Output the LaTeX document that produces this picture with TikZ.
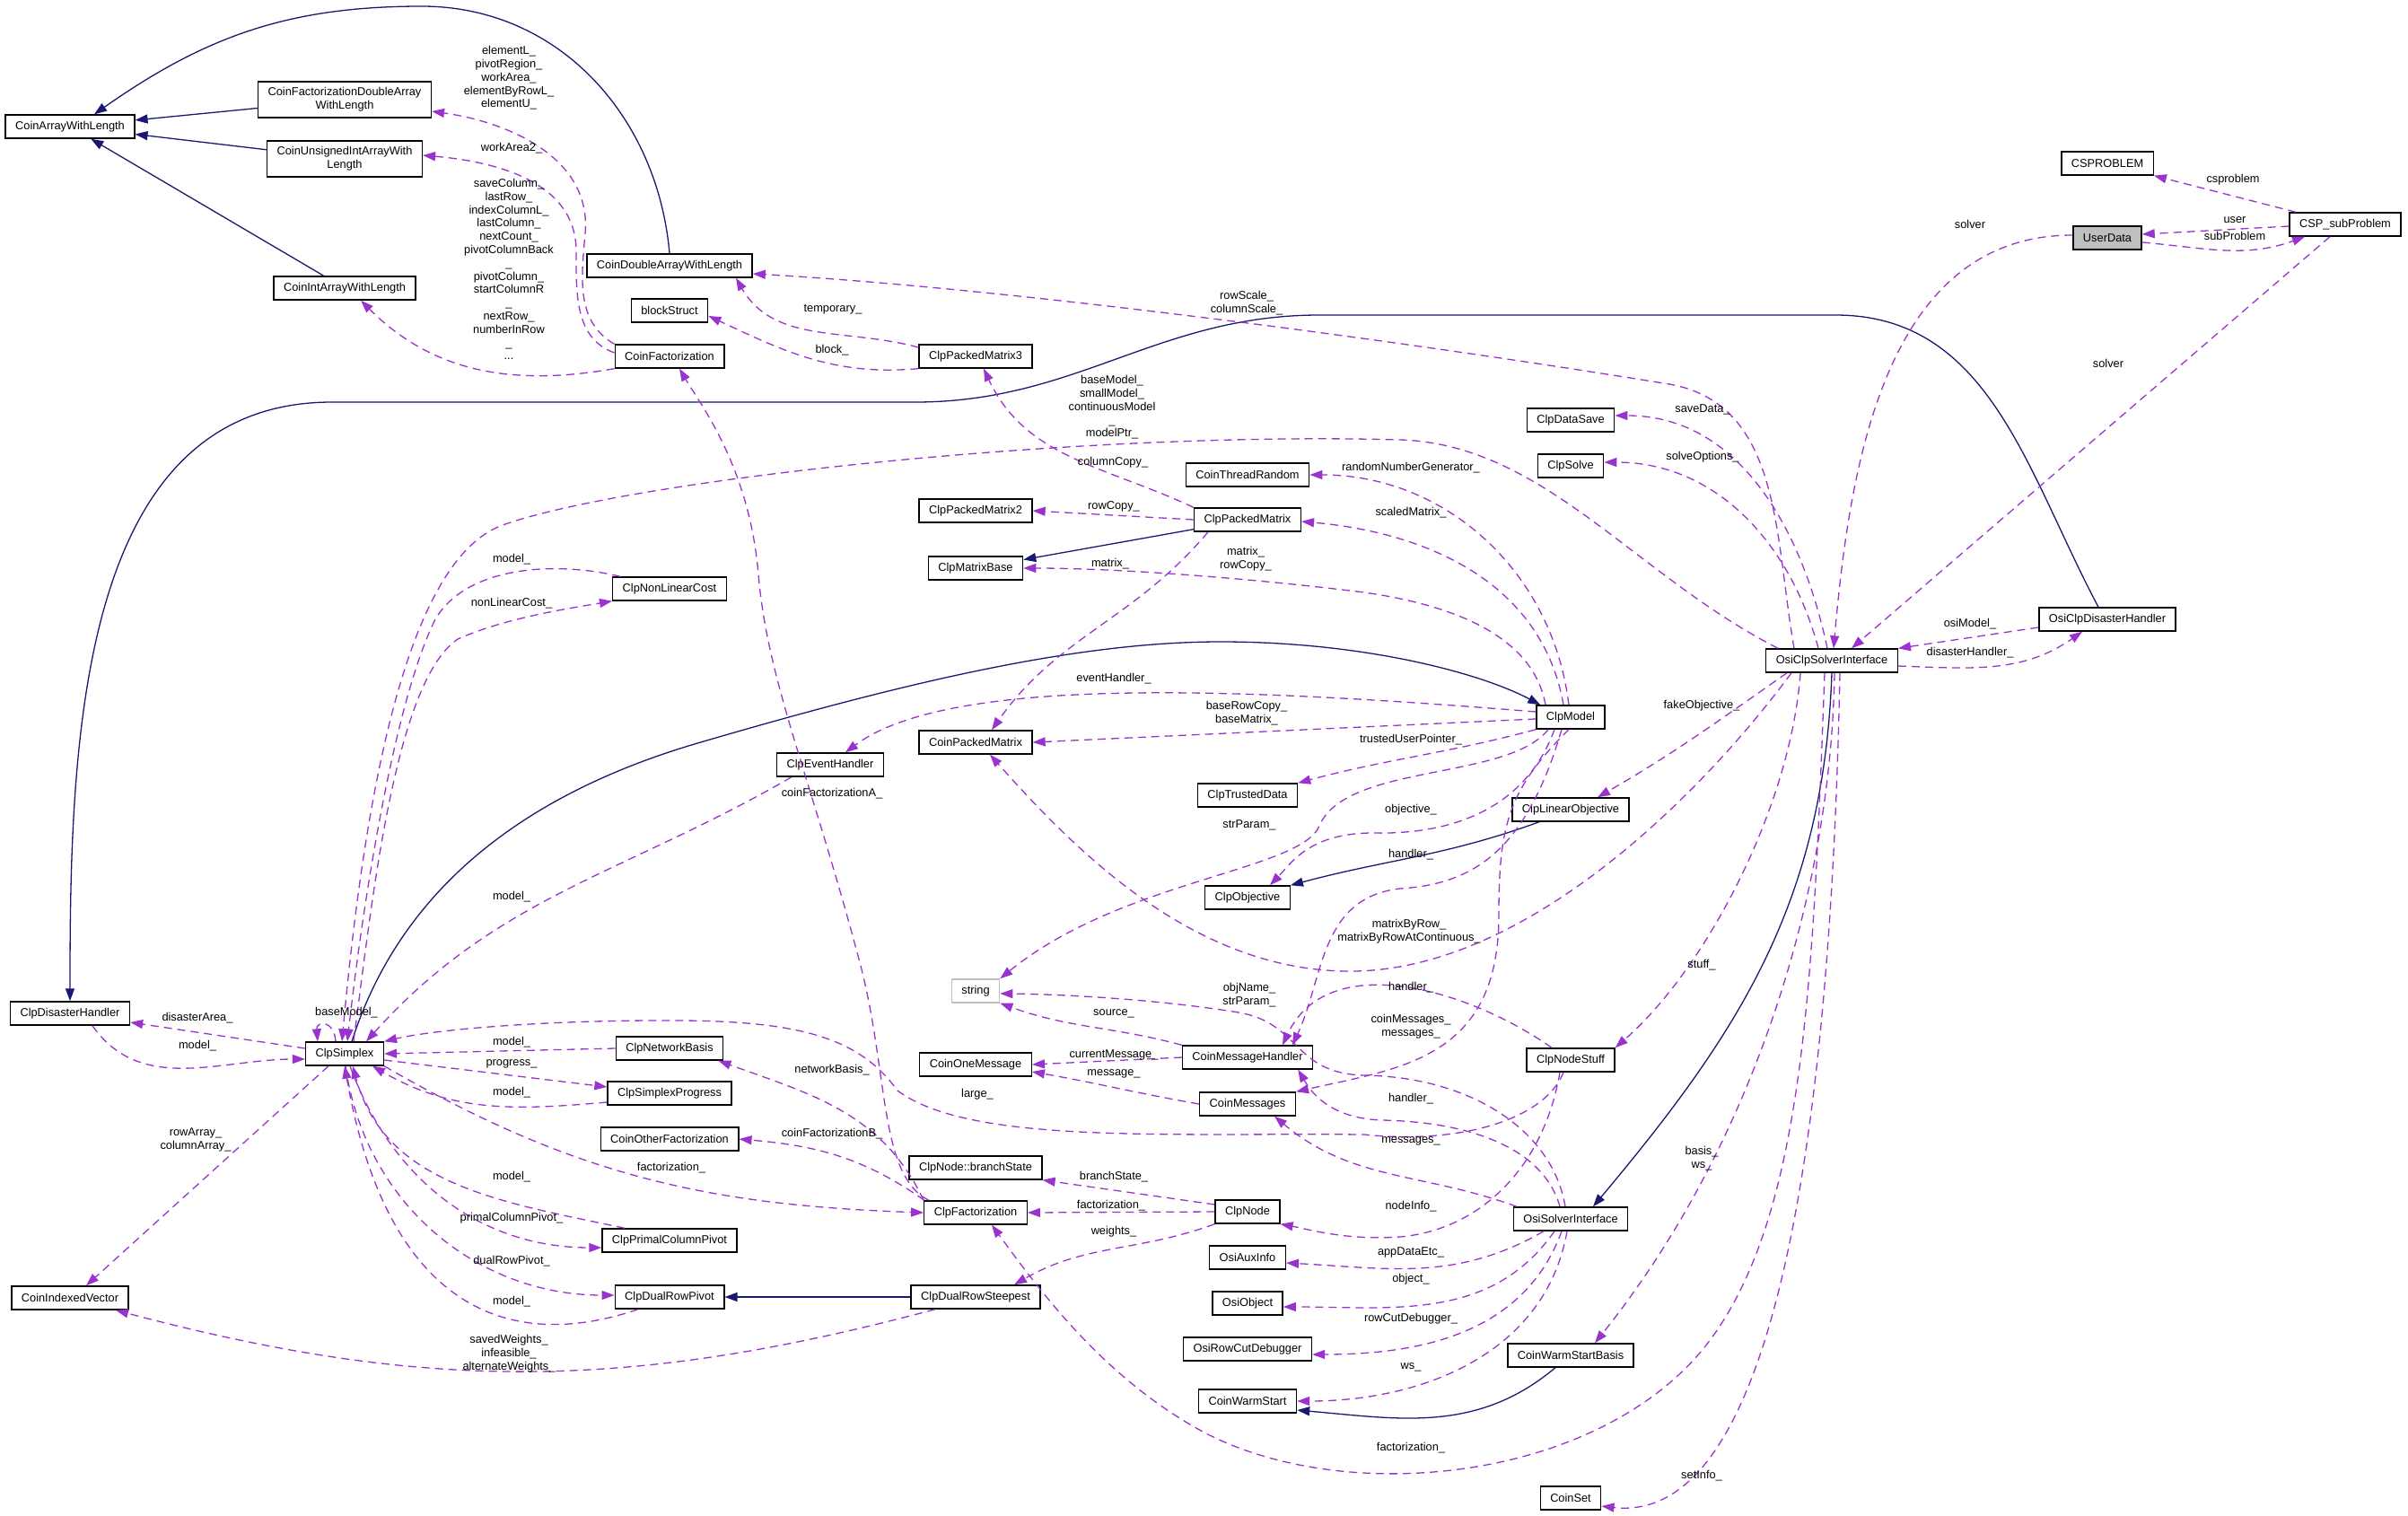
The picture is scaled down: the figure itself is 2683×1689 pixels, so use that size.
\documentclass[tikz,border=0pt]{standalone}
\usepackage{fontspec}
\setmainfont{Liberation Sans}
\usetikzlibrary{arrows.meta}
\definecolor{inhblue}{HTML}{191970}
\definecolor{usepurple}{HTML}{9A32CD}
\newcommand{\dotsz}{\fontsize{12.8}{14.8}\selectfont}

\begin{document}
\begin{tikzpicture}[->,>={Triangle[length=14pt,width=10pt]},x=1pt,y=-1pt]
	\tikzstyle{cls} = [rectangle,draw,line width=1.4pt,font=\dotsz,align=center,inner xsep=11pt,inner ysep=6.5pt,minimum height=26pt]
	\tikzstyle{ext} = [cls,draw=gray!50]
	\tikzstyle{inh} = [inhblue,line width=1.3pt]
	\tikzstyle{use} = [usepurple,line width=1.3pt,dash pattern=on 9pt off 6pt]
	\tikzstyle{lbl} = [font=\dotsz,align=center,inner sep=0pt]

	\useasboundingbox (0,0) rectangle (2683,1689);

	\node[cls] (cawl) at (78,141) {CoinArrayWithLength};
	\node[cls] (cfdawl) at (384,111) {CoinFactorizationDoubleArray\\WithLength};
	\node[cls] (cuiawl) at (384,177) {CoinUnsignedIntArrayWith\\Length};
	\node[cls] (ciawl) at (384,321) {CoinIntArrayWithLength};
	\node[cls] (cdawl) at (746,296) {CoinDoubleArrayWithLength};
	\node[cls] (blk) at (746,346) {blockStruct};
	\node[cls] (cfact) at (746,397) {CoinFactorization};
	\node[cls] (cnlc) at (746,656) {ClpNonLinearCost};
	\node[cls] (ceh) at (925,852) {ClpEventHandler};
	\node[cls] (cnb) at (746,1168) {ClpNetworkBasis};
	\node[cls] (csp) at (746,1218) {ClpSimplexProgress};
	\node[cls] (cof) at (746,1269) {CoinOtherFactorization};
	\node[cls] (cpcp) at (746,1382) {ClpPrimalColumnPivot};
	\node[cls] (cdrp) at (746,1445) {ClpDualRowPivot};
	\node[cls] (cdh) at (78,1129) {ClpDisasterHandler};
	\node[cls] (civ) at (78,1446) {CoinIndexedVector};
	\node[cls] (simplex) at (384,1174) {ClpSimplex};

	\node[cls] (cpm3) at (1087,397) {ClpPackedMatrix3};
	\node[cls] (cpm2) at (1087,569) {ClpPackedMatrix2};
	\node[cls] (cmb) at (1087,633) {ClpMatrixBase};
	\node[cls] (coinpm) at (1087,827) {CoinPackedMatrix};
	\node[ext] (str) at (1087,1104) {string};
	\node[cls] (com) at (1087,1186) {CoinOneMessage};
	\node[cls] (cbs) at (1087,1301) {ClpNode::branchState};
	\node[cls] (clpfact) at (1087,1351) {ClpFactorization};
	\node[cls] (cdrs) at (1087,1445) {ClpDualRowSteepest};

	\node[cls] (ctr) at (1390,529) {CoinThreadRandom};
	\node[cls] (cpm) at (1390,579) {ClpPackedMatrix};
	\node[cls] (ctd) at (1390,886) {ClpTrustedData};
	\node[cls] (cobj) at (1390,1000) {ClpObjective};
	\node[cls] (cmh) at (1390,1178) {CoinMessageHandler};
	\node[cls] (cmsg) at (1390,1230) {CoinMessages};
	\node[cls] (cnode) at (1390,1350) {ClpNode};
	\node[cls] (oai) at (1390,1401) {OsiAuxInfo};
	\node[cls] (oobj) at (1390,1452) {OsiObject};
	\node[cls] (orcd) at (1390,1503) {OsiRowCutDebugger};
	\node[cls] (cws) at (1390,1561) {CoinWarmStart};

	\node[cls] (cds) at (1750,468) {ClpDataSave};
	\node[cls] (csolve) at (1750,519) {ClpSolve};
	\node[cls] (cmodel) at (1750,799) {ClpModel};
	\node[cls] (clo) at (1750,902) {ClpLinearObjective};
	\node[cls] (cns) at (1750,1181) {ClpNodeStuff};
	\node[cls] (osi) at (1750,1358) {OsiSolverInterface};
	\node[cls] (cwsb) at (1750,1510) {CoinWarmStartBasis};
	\node[cls] (cset) at (1750,1669) {CoinSet};

	\node[cls] (osiclp) at (2041,736) {OsiClpSolverInterface};
	\node[cls] (csprob) at (2348,182) {CSPROBLEM};
	\node[cls,fill=gray!50] (ud) at (2348,265) {UserData};
	\node[cls] (ocdh) at (2348,690) {OsiClpDisasterHandler};
	\node[cls] (cspsub) at (2613,250) {CSP\_subProblem};

	\path (cfdawl) edge[inh] (cawl);
	\path (cuiawl) edge[inh] (cawl);
	\path (ciawl) edge[inh] (cawl);
	\draw[inh] (cdawl.north) to[out=95,in=0] (470,7) to[out=180,in=35] ([xshift=27pt]cawl.north);
	\draw[inh] ([xshift=-10pt]ocdh.north) to[out=118,in=0] (2045,351) -- (1470,351) to[out=180,in=0] (1020,448) -- (370,448) to[out=180,in=90] (cdh.north);
	\draw[inh] ([xshift=8pt]simplex.north) .. controls (440,1010) and (560,890) .. (784,826) .. controls (1010,760) and (1200,715) .. (1360,715) .. controls (1520,715) and (1650,750) .. ([xshift=5pt]cmodel.north west);
	\path (cpm) edge[inh] (cmb);
	\draw[inh] ([xshift=-35pt]clo.south) to[out=200,in=15] (cobj.north east);
	\draw[inh] (osiclp.south) to[out=-92,in=50] ([xshift=25pt]osi.north);
	\path (cdrs) edge[inh] (cdrp);
	\draw[inh] ([xshift=-17pt]cwsb.south) to[out=-140,in=-5] ([yshift=-10pt]cws.east);

	\draw[use] (cfact.north west) to[out=150,in=-95] (652,260) to[out=85,in=-8] ([yshift=-13pt]cfdawl.east);
	\draw[use] ([yshift=4pt]cfact.west) to[out=160,in=-90] (642,280) to[out=90,in=-5] ([yshift=4pt]cuiawl.east);
	\draw[use] (cfact.south west) to[out=190,in=-45] ([xshift=18pt]ciawl.south);
	\draw[use] ([yshift=10pt]cpm3.west) to[out=165,in=-60] ([xshift=74pt]cdawl.south);
	\draw[use] (cpm3.south west) to[out=185,in=-25] ([yshift=-6pt]blk.east);
	\draw[use] ([xshift=-42pt]osiclp.north) to[out=100,in=-10] (1860,428) .. controls (1500,370) and (1100,320) .. ([yshift=-9pt]cdawl.east);
	\draw[use] ([xshift=-5pt]osiclp.north) to[out=102,in=0] ([yshift=5pt]cds.east);
	\draw[use] ([xshift=-15pt]osiclp.north) to[out=105,in=0] ([yshift=4pt]csolve.east);
	\draw[use] ([xshift=-60pt]osiclp.north) .. controls (1820,640) and (1720,495) .. (1560,490) .. controls (1200,480) and (700,535) .. (560,585) .. controls (450,625) and (405,900) .. ([xshift=-3pt]simplex.north);
	\draw[use] ([xshift=-8pt]cmodel.north) to[out=100,in=-5] ([yshift=-2pt]cpm.east);
	\draw[use] ([xshift=-2pt]cmodel.north) to[out=97,in=0] (ctr.east);
	\draw[use] ([xshift=-28pt]cmodel.north) .. controls (1712,730) and (1660,680) .. (1520,660) .. controls (1400,645) and (1250,633) .. (cmb.east);
	\path ([yshift=-2pt]cmodel.west) edge[use] (coinpm.east);
	\draw[use] ([yshift=6pt]cmodel.west) .. controls (1400,768) and (1060,750) .. ([xshift=17pt]ceh.north);
	\draw[use] (cmodel.south west) to[out=195,in=15] (ctd.north east);
	\draw[use] ([xshift=-25pt]cmodel.south) .. controls (1680,870) and (1500,850) .. (1470,920) .. controls (1450,970) and (1250,980) .. (str.north east);
	\draw[use] ([xshift=-18pt]cmodel.south) .. controls (1700,900) and (1620,930) .. (1530,928) .. controls (1460,928) and (1440,960) .. ([xshift=25pt]cobj.north);
	\draw[use] ([xshift=-10pt]cmodel.south) .. controls (1700,950) and (1640,985) .. (1560,990) .. controls (1470,1000) and (1475,1090) .. ([xshift=50pt]cmh.north);
	\draw[use] ([xshift=-2pt]cmodel.south) .. controls (1680,880) and (1670,920) .. (1670,1020) .. controls (1670,1180) and (1560,1190) .. (cmsg.north east);
	\draw[use] ([xshift=-21pt]cns.north) to[out=145,in=65] ([xshift=39pt]cmh.north);
	\draw[use] ([xshift=-12pt]osi.north) .. controls (1720,1280) and (1640,1250) .. (1540,1248) .. controls (1480,1246) and (1460,1215) .. ([xshift=-17pt]cmh.south east);
	\draw[use] ([xshift=-60pt]osi.north) to[out=160,in=-40] ([xshift=30pt]cmsg.south);
	\draw[use] ([xshift=-6pt]osi.north) .. controls (1730,1260) and (1640,1200) .. (1520,1198) .. controls (1440,1196) and (1450,1140) .. (1380,1128) .. controls (1300,1115) and (1200,1108) .. ([yshift=-3pt]str.east);
	\draw[use] (cmh.north west) to[out=165,in=-20] (str.south east);
	\path (cmh.west) edge[use] (com.east);
	\draw[use] (cmsg.west) to[out=170,in=-10] ([yshift=-8pt]com.east);
	\draw[use] ([xshift=-8pt]cns.south) .. controls (1720,1250) and (1620,1275) .. (1520,1264) .. controls (1300,1262) and (1080,1275) .. (1000,1215) .. controls (960,1160) and (900,1138) .. (760,1137) .. controls (600,1136) and (480,1148) .. (simplex.north east);
	\draw[use] ([xshift=-12pt]cns.south) .. controls (1720,1300) and (1650,1370) .. (1560,1378) .. controls (1500,1382) and (1460,1370) .. (cnode.south east);
	\draw[use] ([xshift=-30pt]osi.south) to[out=-150,in=-3] ([yshift=-6pt]oai.east);
	\draw[use] ([xshift=-18pt]osi.south) to[out=-125,in=0] ([yshift=-4pt]oobj.east);
	\draw[use] ([xshift=-10pt]osi.south) to[out=-110,in=0] ([yshift=-6pt]orcd.east);
	\draw[use] ([xshift=-4pt]osi.south) to[out=-100,in=0] (cws.east);
	\draw[use] ([xshift=-8pt]osiclp.south) .. controls (2020,1100) and (2010,1360) .. (1900,1500) .. controls (1780,1650) and (1500,1680) .. (1340,1595) .. controls (1230,1535) and (1160,1440) .. ([xshift=18pt]clpfact.south);
	\draw[use] ([xshift=3pt]osiclp.south) .. controls (2040,1000) and (1950,1280) .. ([xshift=27pt]cwsb.north);
	\draw[use] ([xshift=9pt]osiclp.south) .. controls (2040,1250) and (1980,1700) .. ([yshift=-9pt]cset.east);
	\draw[use] ([xshift=-35pt]osiclp.south) .. controls (1995,900) and (1900,1080) .. (cns.north east);
	\draw[use] ([xshift=-50pt]osiclp.south) to[out=-145,in=30] ([xshift=30pt]clo.north);
	\draw[use] ([xshift=-45pt]osiclp.south) .. controls (1900,880) and (1700,1085) .. (1500,1082) .. controls (1330,1080) and (1200,950) .. ([xshift=16pt]coinpm.south);
	\draw[use] ([yshift=-6pt]osiclp.east) to[out=-2,in=-145] ([xshift=-28pt]ocdh.south);
	\path ([yshift=-9pt]ocdh.west) edge[use] (osiclp.north east);
	\draw[use] ([yshift=3pt]ud.west) to[out=180,in=85] ([xshift=2pt]osiclp.north);
	\path ([xshift=-17pt]cspsub.south) edge[use] ([xshift=22pt]osiclp.north);
	\path ([xshift=-55pt]cspsub.north) edge[use] (csprob.south east);
	\path ([yshift=-2pt]cspsub.west) edge[use] ([yshift=4pt]ud.east);
	\draw[use] ([yshift=-5pt]ud.east) to[out=-5,in=-160] ([xshift=-45pt]cspsub.south);
	\draw[use] (cpm.north west) to[out=155,in=-65] ([xshift=9pt]cpm3.south);
	\path (cpm.west) edge[use] (cpm2.east);
	\draw[use] ([xshift=-44pt]cpm.south) to[out=-130,in=55] ([xshift=18pt]coinpm.north);
	\draw[use] ([xshift=-52pt]clpfact.north) .. controls (980,1310) and (990,1200) .. (960,1080) .. controls (905,870) and (855,760) .. (845,640) .. controls (835,520) and (780,450) .. ([xshift=11pt]cfact.south);
	\draw[use] ([xshift=-57pt]clpfact.north) to[out=145,in=-5] (cof.east);
	\draw[use] (clpfact.north west) to[out=115,in=-20] ([xshift=-6pt]cnb.south east);
	\path ([yshift=8pt]cnode.west) edge[use] (cbs.south east);
	\path (cnode.west) edge[use] (clpfact.east);
	\draw[use] (cnode.south west) to[out=-160,in=30] ([xshift=43pt]cdrs.north);
	\draw[use] ([xshift=-45pt]cdrs.south) .. controls (700,1550) and (474,1551) .. ([xshift=51pt]civ.south);
	\draw[use] ([xshift=-10pt]simplex.north) .. controls (372,1135) and (352,1138) .. ([xshift=-30pt]simplex.north);
	\path ([yshift=6pt]simplex.west) edge[use] ([yshift=-10pt]cdh.east);
	\draw[use] ([xshift=25pt]cdh.south) to[out=-55,in=180] ([yshift=-6pt]simplex.west);
	\path ([xshift=-18pt]simplex.south) edge[use] ([xshift=18pt]civ.north);
	\draw[use] ([xshift=-55pt]cnlc.north) .. controls (620,625) and (520,630) .. (485,690) .. controls (440,780) and (405,1000) .. ([xshift=3pt]simplex.north);
	\draw[use] ([xshift=10pt]simplex.north) .. controls (415,1000) and (440,760) .. (510,712) .. controls (560,690) and (620,680) .. (cnlc.south west);
	\draw[use] ([xshift=-43pt]ceh.south) to[out=-150,in=48] ([xshift=24pt]simplex.north);
	\path (cnb.west) edge[use] (simplex.east);
	\path ([yshift=-7pt]simplex.east) edge[use] ([yshift=7pt]csp.west);
	\draw[use] ([yshift=-10pt]csp.west) to[out=185,in=-30] ([xshift=31pt]simplex.south);
	\draw[use] (simplex.south east) to[out=-30,in=178] (clpfact.west);
	\draw[use] ([xshift=6pt]simplex.south) to[out=-70,in=180] ([yshift=-8pt]cpcp.west);
	\draw[use] ([xshift=-50pt]cpcp.north) to[out=168,in=-75] ([xshift=9pt]simplex.south);
	\draw[use] ([xshift=1pt]simplex.south) to[out=-82,in=180] ([yshift=2pt]cdrp.west);
	\draw[use] ([xshift=-35pt]cdrp.south) .. controls (560,1510) and (430,1450) .. (simplex.south);

	\node[lbl] (lelemL) at (567,87) {elementL\_\\pivotRegion\_\\workArea\_\\elementByRowL\_\\elementU\_};
	\node[lbl] (lworkA2) at (570,165) {workArea2\_};
	\node[lbl] (lsaveCol) at (567,300) {saveColumn\_\\lastRow\_\\indexColumnL\_\\lastColumn\_\\nextCount\_\\pivotColumnBack\\\_\\pivotColumn\_\\startColumnR\\\_\\nextRow\_\\numberInRow\\\_\\...};
	\node[lbl] (ltemp) at (928,345) {temporary\_};
	\node[lbl] (lblock) at (927,390) {block\_};
	\node[lbl] (lrowScale) at (1389,338) {rowScale\_\\columnScale\_};
	\node[lbl] (lbaseModels) at (1239,454) {baseModel\_\\smallModel\_\\continuousModel\\\_\\modelPtr\_};
	\node[lbl] (lcolCopy) at (1240,515) {columnCopy\_};
	\node[lbl] (lrowCopy) at (1241,564) {rowCopy\_};
	\node[lbl] (lsaveData) at (1897,456) {saveData\_};
	\node[lbl] (lsolveOpt) at (1897,509) {solveOptions\_};
	\node[lbl] (lrandom) at (1572,521) {randomNumberGenerator\_};
	\node[lbl] (lscaled) at (1572,571) {scaledMatrix\_};
	\node[lbl] (lcsprob) at (2488,200) {csproblem};
	\node[lbl] (luser) at (2490,245) {user};
	\node[lbl] (lsubProb) at (2490,263) {subProblem};
	\node[lbl] (lsolverA) at (2195,250) {solver};
	\node[lbl] (lsolverB) at (2349,405) {solver};
	\node[lbl] (losiModel) at (2195,695) {osiModel\_};
	\node[lbl] (ldisHandler) at (2195,727) {disasterHandler\_};
	\node[lbl] (lmatrixRow) at (1388,623) {matrix\_\\rowCopy\_};
	\node[lbl] (lmatrix) at (1237,628) {matrix\_};
	\node[lbl] (levent) at (1241,756) {eventHandler\_};
	\node[lbl] (lbaseRow) at (1389,795) {baseRowCopy\_\\baseMatrix\_};
	\node[lbl] (ltrusted) at (1572,824) {trustedUserPointer\_};
	\node[lbl] (lcfA) at (927,884) {coinFactorizationA\_};
	\node[lbl] (lstrParamA) at (1392,919) {strParam\_};
	\node[lbl] (lobjective) at (1572,902) {objective\_};
	\node[lbl] (lhandlerA) at (1572,952) {handler\_};
	\node[lbl] (lfakeObj) at (1896,786) {fakeObjective\_};
	\node[lbl] (lmatByRow) at (1570,1038) {matrixByRow\_\\matrixByRowAtContinuous\_};
	\node[lbl] (lstuff) at (1896,1075) {stuff\_};
	\node[lbl] (lobjName) at (1392,1109) {objName\_\\strParam\_};
	\node[lbl] (lhandlerB) at (1572,1100) {handler\_};
	\node[lbl] (lcoinMsg) at (1572,1144) {coinMessages\_\\messages\_};
	\node[lbl] (lhandlerC) at (1572,1224) {handler\_};
	\node[lbl] (lmessages) at (1572,1271) {messages\_};
	\node[lbl] (lnodeInfo) at (1572,1344) {nodeInfo\_};
	\node[lbl] (lappData) at (1572,1395) {appDataEtc\_};
	\node[lbl] (lobject) at (1572,1425) {object\_};
	\node[lbl] (lrowCut) at (1572,1469) {rowCutDebugger\_};
	\node[lbl] (lws) at (1572,1523) {ws\_};
	\node[lbl] (lfactA) at (1572,1613) {factorization\_};
	\node[lbl] (lbasis) at (1896,1291) {basis\_\\ws\_};
	\node[lbl] (lsetInfo) at (1896,1644) {setInfo\_};
	\node[lbl] (lsource) at (1241,1129) {source\_};
	\node[lbl] (lcurMsg) at (1241,1175) {currentMessage\_};
	\node[lbl] (lmessage) at (1241,1196) {message\_};
	\node[lbl] (llarge) at (1089,1219) {large\_};
	\node[lbl] (lnetBasis) at (927,1192) {networkBasis\_};
	\node[lbl] (lcfB) at (927,1263) {coinFactorizationB\_};
	\node[lbl] (lfactB) at (748,1301) {factorization\_};
	\node[lbl] (lbranch) at (1241,1311) {branchState\_};
	\node[lbl] (lfactC) at (1238,1343) {factorization\_};
	\node[lbl] (lweights) at (1241,1372) {weights\_};
	\node[lbl] (lmodelA) at (570,623) {model\_};
	\node[lbl] (lnonLin) at (570,672) {nonLinearCost\_};
	\node[lbl] (lmodelB) at (570,999) {model\_};
	\node[lbl] (ldisArea) at (220,1134) {disasterArea\_};
	\node[lbl] (lmodelC) at (220,1165) {model\_};
	\node[lbl] (lbaseModel) at (386,1128) {baseModel\_};
	\node[lbl] (lmodelD) at (570,1161) {model\_};
	\node[lbl] (lprogress) at (570,1185) {progress\_};
	\node[lbl] (lmodelE) at (570,1217) {model\_};
	\node[lbl] (lrowArray) at (218,1270) {rowArray\_\\columnArray\_};
	\node[lbl] (lmodelF) at (570,1311) {model\_};
	\node[lbl] (lprimal) at (570,1357) {primalColumnPivot\_};
	\node[lbl] (ldual) at (570,1405) {dualRowPivot\_};
	\node[lbl] (lmodelG) at (570,1450) {model\_};
	\node[lbl] (lsaved) at (567,1508) {savedWeights\_\\infeasible\_\\alternateWeights\_};
\end{tikzpicture}
\end{document}
